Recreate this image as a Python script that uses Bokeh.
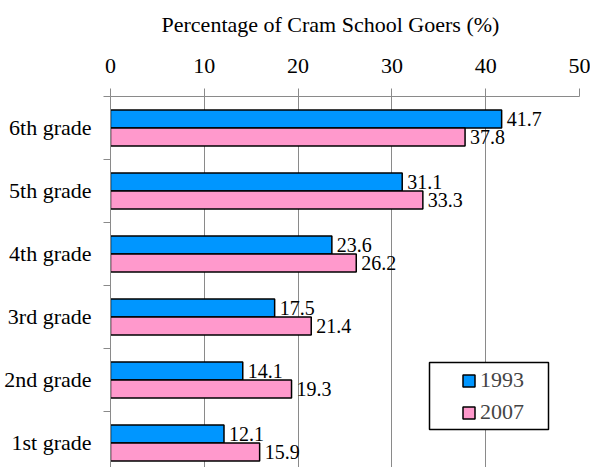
from bokeh.plotting import figure
from bokeh.models import (Range1d, FixedTicker, Legend, LegendItem, BoxAnnotation,
                          ColumnDataSource, LinearAxis)
from bokeh.transform import dodge
from bokeh.core.properties import value
from bokeh.embed import file_html
from bokeh.resources import INLINE

# ---- data ----
grades = ["1st grade", "2nd grade", "3rd grade", "4th grade", "5th grade", "6th grade"]
v1993 = [12.1, 14.1, 17.5, 23.6, 31.1, 41.7]
v2007 = [15.9, 19.3, 21.4, 26.2, 33.3, 37.8]
series = ["1993", "2007"]
x_ticks = [0, 10, 20, 30, 40, 50]
x_title = "Percentage of Cram School Goers (%)"
x_title_center = 23.45   # title is centred a little left of the axis middle

colors = ["#0096FF", "#FF99CC"]
FONT = "Liberation Serif"
GREY = "#8a8a8a"

pos = list(range(len(grades)))
src = ColumnDataSource(dict(
    pos=pos, a=v1993, b=v2007,
    la=[f"{v:.1f}" for v in v1993], lb=[f"{v:.1f}" for v in v2007],
))

p = figure(width=590, height=467, output_backend="svg", toolbar_location=None,
           x_range=Range1d(0, 50), y_range=Range1d(-0.389, 5.5),
           x_axis_location="above",
           min_border_left=110, min_border_right=11, min_border_top=96, min_border_bottom=0)
p.outline_line_color = None
p.background_fill_color = "white"
p.title.visible = False

bh = 0.286
r1 = p.hbar(y=dodge("pos", bh / 2), left=0, right="a", height=bh, source=src,
            fill_color=colors[0], line_color="black", line_width=1.5)
r2 = p.hbar(y=dodge("pos", -bh / 2), left=0, right="b", height=bh, source=src,
            fill_color=colors[1], line_color="black", line_width=1.5)

p.text(x="a", y=dodge("pos", bh / 2), text="la", source=src, x_offset=5,
       text_baseline="middle", text_font=value(FONT), text_font_size="20px", text_color="black")
p.text(x="b", y=dodge("pos", -bh / 2), text="lb", source=src, x_offset=5,
       text_baseline="middle", text_font=value(FONT), text_font_size="20px", text_color="black")

# top axis
xa = p.xaxis[0]
xa.ticker = FixedTicker(ticks=x_ticks)
xa.axis_line_color = GREY
xa.major_tick_line_color = GREY
xa.major_tick_out = 8
xa.major_tick_in = 0
xa.minor_tick_out = 0
xa.minor_tick_in = 0
xa.major_label_text_font = FONT
xa.major_label_text_font_size = "22px"
xa.major_label_text_color = "black"
xa.major_label_standoff = 16

# title line: an extra top axis carrying a single label
ta = LinearAxis(ticker=FixedTicker(ticks=[x_title_center]),
                major_label_overrides={x_title_center: x_title})
ta.axis_line_color = None
ta.major_tick_line_color = None
ta.minor_tick_line_color = None
ta.major_tick_out = 0
ta.major_tick_in = 0
ta.minor_tick_out = 0
ta.minor_tick_in = 0
ta.major_label_text_font = FONT
ta.major_label_text_font_size = "22px"
ta.major_label_text_color = "black"
ta.major_label_standoff = 19
p.add_layout(ta, "above")

# left axis
ya = p.yaxis[0]
ya.ticker = FixedTicker(ticks=pos, minor_ticks=[i - 0.5 for i in range(len(grades) + 1)])
ya.major_label_overrides = {i: g for i, g in enumerate(grades)}
ya.axis_line_color = GREY
ya.major_tick_out = 0
ya.major_tick_in = 0
ya.minor_tick_out = 7
ya.minor_tick_in = 0
ya.minor_tick_line_color = GREY
ya.major_label_text_font = FONT
ya.major_label_text_font_size = "22px"
ya.major_label_text_color = "black"
ya.major_label_standoff = 12

p.xgrid.grid_line_color = GREY
p.ygrid.visible = False

# legend
box = BoxAnnotation(left=429, right=548, top=362, bottom=429,
                    left_units="canvas", right_units="canvas",
                    top_units="canvas", bottom_units="canvas",
                    fill_color="white", fill_alpha=1.0,
                    line_color="black", line_width=1.5, line_alpha=1.0)
p.add_layout(box)

legend = Legend(items=[LegendItem(label=series[0], renderers=[r1]),
                       LegendItem(label=series[1], renderers=[r2])],
                location=(351, 42), padding=0, margin=0, spacing=6,
                glyph_width=15, glyph_height=15, label_height=26, label_standoff=4,
                label_text_font=FONT, label_text_font_size="22px",
                border_line_color=None, background_fill_alpha=0)
p.add_layout(legend)

open("out.html", "w").write(file_html(p, INLINE))
